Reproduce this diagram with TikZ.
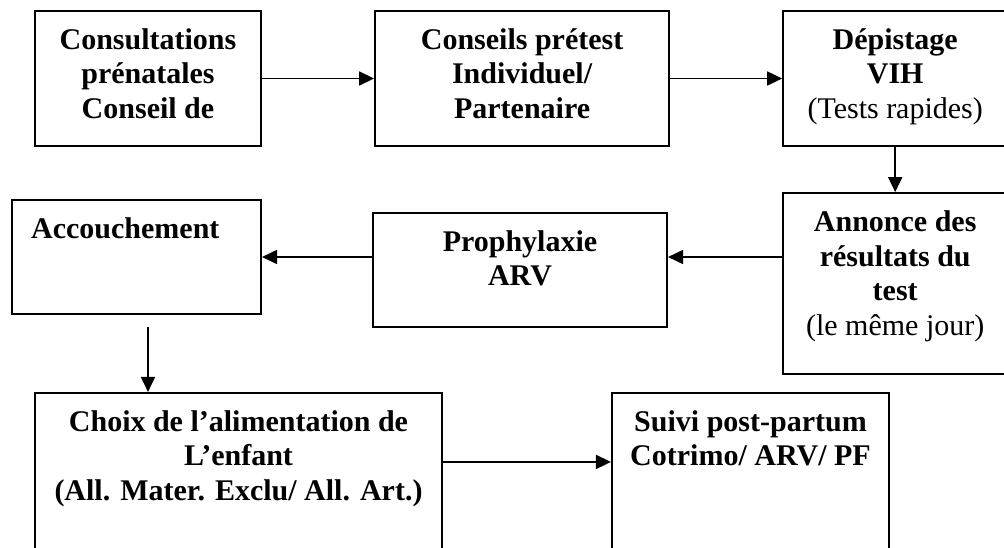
\documentclass[tikz,border=0pt]{standalone}
\usepackage{fontspec}
\setmainfont{Liberation Serif}
\usetikzlibrary{positioning}
\usetikzlibrary{arrows.meta}

\tikzset{
	box/.style={draw, line width=2.1pt, inner sep=0pt},
	txt/.style={align=center, inner sep=0pt, anchor=base,
		font=\fontsize{30}{34.5}\selectfont\bfseries},
	flow/.style={-{Triangle[length=15pt,width=14pt]}, line width=1.8pt}
}

\begin{document}
\begin{tikzpicture}[x=1pt, y=-1pt, node distance=112pt]
		\useasboundingbox (0,0) rectangle (1004,548);
		% first row
		\node [box, minimum width=226pt, minimum height=135pt] (consult) at (148,78.5) {};
		\node [box, minimum width=294pt, minimum height=135pt, right=of consult] (pretest) {};
		\node [box, minimum width=224pt, minimum height=135pt, right=of pretest] (depist) {};
		% second row
		\node [box, minimum width=224pt, minimum height=181pt, below=45pt of depist] (annonce) {};
		\node [box, minimum width=294pt, minimum height=114pt] (prophy) at (520,270) {};
		\node [box, minimum width=249pt, minimum height=114pt] (accouch) at (136.5,257) {};
		% last row, runs off the bottom
		\node [box, minimum width=407pt, minimum height=180pt] (choix) at (238.5,483) {};
		\node [box, minimum width=277pt, minimum height=180pt] (suivi) at (750.5,483) {};

		% texts, placed by the baseline of their last line
		\node [txt] (consult-t) at ([yshift=-108.5pt]consult.north) {Consultations\\prénatales\\Conseil de};
		\node [txt] (pretest-t) at ([yshift=-108.5pt]pretest.north) {Conseils prétest\\Individuel/\\Partenaire};
		\node [txt] (depist-t) at ([yshift=-108.5pt]depist.north) {Dépistage\\VIH\\{\mdseries (Tests rapides)}};
		\node [txt] (annonce-t) at ([yshift=-143pt]annonce.north) {Annonce des\\résultats du\\test\\{\mdseries (le même jour)}};
		\node [txt] (prophy-t) at ([yshift=-74pt]prophy.north) {Prophylaxie\\ARV};
		\node [txt, anchor=base west] (accouch-t) at ([xshift=20pt,yshift=-39.5pt]accouch.north west) {Accouchement};
		\node [txt] (choix-t) at ([yshift=-108.5pt]choix.north) {Choix de l’alimentation de\\L’enfant\\(All. Mater. Exclu/ All. Art.)};
		\node [txt] (suivi-t) at ([yshift=-74pt]suivi.north) {Suivi post-partum\\Cotrimo/ ARV/ PF};

		\draw [flow] (consult) -- (pretest);
		\draw [flow] (pretest) -- (depist);
		\draw [flow] (depist) -- (annonce);
		\draw [flow] (annonce.west |- accouch.east) -- (prophy.east |- accouch.east);
		\draw [flow] (prophy.west |- accouch.east) -- (accouch.east);
		\draw [flow] ([xshift=11.5pt,yshift=-12pt]accouch.south) -- ([xshift=11.5pt]accouch.south |- choix.north);
		\draw [flow] ([yshift=-70pt]choix.north east) -- ([yshift=-70pt]suivi.north west);
\end{tikzpicture}
\end{document}
